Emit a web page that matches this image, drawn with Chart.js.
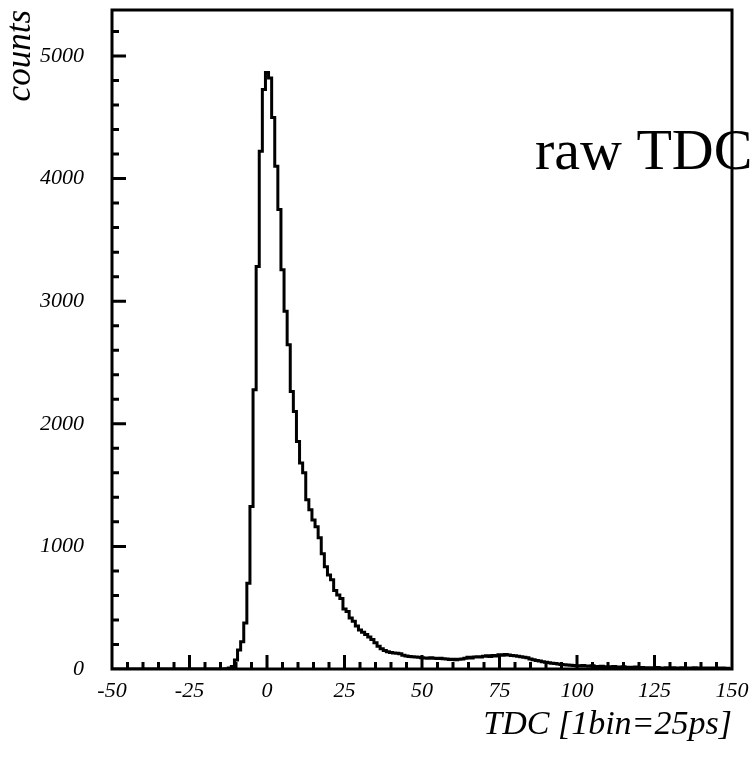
<!DOCTYPE html>
<html><head><meta charset="utf-8">
<script src="https://cdn.jsdelivr.net/npm/chart.js@4/dist/chart.umd.min.js"></script>
<style>html,body{margin:0;padding:0;background:#fff;overflow:hidden}#wrap{width:754px;height:757px}</style>
</head><body><div id="wrap"><canvas id="c" width="754" height="757"></canvas></div>
<script>
// ---- data ----
const binStart = -50.5;   // lower edge of first bin (bin centres are integers)
const binWidth = 1;
const counts = [
  // bins -50 .. -15
  0,0,0,0,0,0,0,0,0,0,0,0,0,0,0,0,0,0,0,0,0,0,0,0,0,0,0,0,0,0,0,0,0,0,0,0,
  // bins -14 .. -1
  0,3,8,20,73,155,223,375,700,1325,2277,3282,4223,4727,
  // bins 0 .. 19
  4865,4820,4498,4100,3747,3257,2917,2645,2264,2100,1855,1680,1600,1380,1298,1216,1160,1070,940,835,
  // bins 20 .. 39
  767,727,640,604,575,490,470,416,390,350,318,300,282,260,240,215,185,165,150,140,
  // bins 40 .. 59
  135,131,128,124,112,106,102,100,98,95,92,90,88,91,87,85,88,84,82,78,
  // bins 60 .. 79
  80,76,79,82,88,95,90,97,100,98,104,108,102,110,106,116,112,118,114,110,
  // bins 80 .. 99
  108,104,100,96,92,82,75,70,66,60,56,50,46,44,40,36,34,32,30,28,
  // bins 100 .. 119
  26,25,28,24,22,26,21,20,22,18,19,17,20,16,15,18,14,15,13,16,
  // bins 120 .. 149
  12,12,10,11,9,10,12,9,8,10,9,11,8,9,10,7,9,8,10,8,7,9,8,7,8,9,7,8,6,7
];
const xTickLabels = [-50,-25,0,25,50,75,100,125,150];
const yTickLabels = [0,1000,2000,3000,4000,5000];
const xRange = [-50, 150];
const yRange = [0, 5375];
const xTitle = 'TDC [1bin=25ps]';
const yTitle = 'counts';
const plotTitle = 'raw TDC';

// ---- build dataset ----
const pts = counts.map((c, i) => ({x: binStart + i * binWidth, y: c}));
pts.push({x: binStart + counts.length * binWidth, y: counts[counts.length - 1]});

const serif = "'Liberation Serif','Times New Roman',serif";

const framePlugin = {
  id: 'frame',
  afterDatasetsDraw(chart) {
    const ctx = chart.ctx, a = chart.chartArea;
    const xs = chart.scales.x, ys = chart.scales.y;
    ctx.save();
    ctx.strokeStyle = '#000';
    ctx.lineWidth = 3;
    ctx.lineCap = 'butt';
    // inward tick marks (major at labelled values, minor in between)
    ctx.beginPath();
    xs.ticks.forEach(t => {
      const px = xs.getPixelForValue(t.value);
      if (px <= a.left + 1 || px >= a.right - 1) return;
      const len = xTickLabels.includes(t.value) ? 14 : 7;
      ctx.moveTo(px, a.bottom); ctx.lineTo(px, a.bottom - len);
    });
    ys.ticks.forEach(t => {
      if (t.value % 200 !== 0) return;
      const py = ys.getPixelForValue(t.value);
      if (py <= a.top + 1 || py >= a.bottom - 1) return;
      const len = yTickLabels.includes(t.value) ? 14 : 7;
      ctx.moveTo(a.left, py); ctx.lineTo(a.left + len, py);
    });
    ctx.stroke();
    // frame
    ctx.strokeRect(a.left, a.top, a.right - a.left, a.bottom - a.top);
    // plot label
    ctx.fillStyle = '#000';
    ctx.font = "58px " + serif;
    ctx.textAlign = 'left';
    ctx.textBaseline = 'alphabetic';
    ctx.fillText(plotTitle, 535, 169);
    ctx.restore();
  }
};

new Chart(document.getElementById('c'), {
  type: 'line',
  data: {
    datasets: [{
      data: pts,
      stepped: true,
      borderColor: '#000',
      borderWidth: 3,
      pointRadius: 0,
      fill: false,
      tension: 0
    }]
  },
  options: {
    responsive: false,
    animation: false,
    devicePixelRatio: 1,
    layout: {padding: {top: 10, right: 22, left: 0, bottom: 0}},
    plugins: {legend: {display: false}, tooltip: {enabled: false}, title: {display: false}},
    scales: {
      x: {
        type: 'linear',
        min: xRange[0], max: xRange[1],
        grid: {display: false, drawTicks: false},
        border: {display: false},
        ticks: {
          stepSize: 5, autoSkip: false, maxRotation: 0, includeBounds: false,
          color: '#000', padding: 9,
          font: {family: serif, size: 22, style: 'italic'},
          callback: v => xTickLabels.includes(v) ? String(v) : ''
        },
        title: {
          display: true, text: xTitle, align: 'end', color: '#000',
          font: {family: serif, size: 34, style: 'italic'},
          padding: {top: 0, bottom: 12}
        },
        afterFit: s => { s.height = 88; s.paddingLeft = 0; s.paddingRight = 0; }
      },
      y: {
        type: 'linear',
        min: yRange[0], max: yRange[1],
        grid: {display: false, drawTicks: false},
        border: {display: false},
        ticks: {
          stepSize: 100, autoSkip: false, includeBounds: false,
          color: '#000', padding: 28,
          font: {family: serif, size: 22, style: 'italic'},
          callback: v => yTickLabels.includes(v) ? String(v) : ''
        },
        title: {
          display: true, text: yTitle, align: 'end', color: '#000',
          font: {family: serif, size: 35, style: 'italic'},
          padding: {top: 0, bottom: 0}
        },
        afterFit: s => { s.width = 112; s.paddingTop = 0; s.paddingBottom = 0; }
      }
    }
  },
  plugins: [framePlugin]
});
</script>
</body></html>
